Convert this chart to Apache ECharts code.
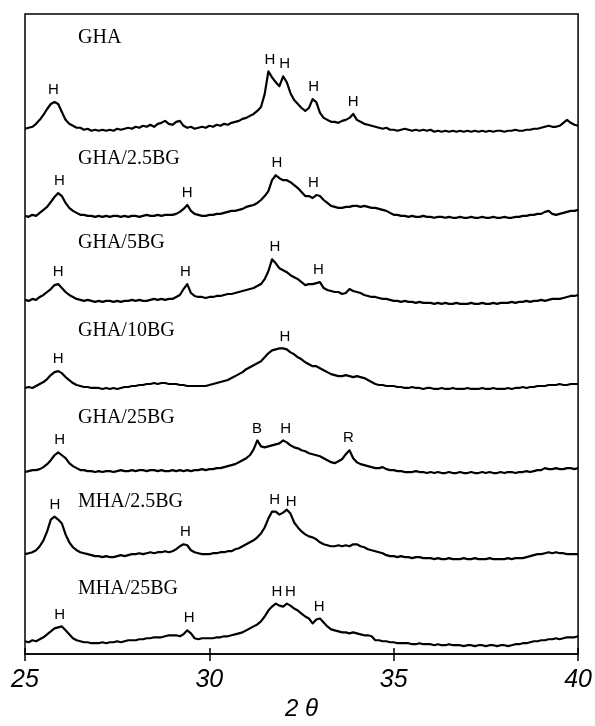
<!DOCTYPE html>
<html><head><meta charset="utf-8">
<script src="https://cdn.jsdelivr.net/npm/echarts/dist/echarts.min.js"></script>
<style>html,body{margin:0;padding:0;background:#fff}#c{width:595px;height:726px}</style>
</head><body><div id="c"></div>
<script>
// 2θ sampling grid: 25.0 … 40.0 in 0.1° steps
const twoTheta = [];
for (let i = 0; i <= 150; i++) twoTheta.push(+(25 + i * 0.1).toFixed(1));

const xTicks = [25, 30, 35, 40];
const sampleNames = ['GHA', 'GHA/2.5BG', 'GHA/5BG', 'GHA/10BG', 'GHA/25BG', 'MHA/2.5BG', 'MHA/25BG'];
// vertical stacking offsets of each pattern (arbitrary intensity units)
const offsets = [528, 441, 354, 268, 183, 96, 9];

// relative intensities (arbitrary units), one value per 0.1° from 25.0 to 40.0
const iGHA = [
 3,4,5,8,12,17,23,28,30,28,
 20,12,8,6,4,4,2,3,1,2,
 1,2,1,2,1,3,2,3,4,3,
 5,4,6,5,7,5,8,9,11,8,
 7,10,11,6,4,5,3,4,5,4,
 6,5,7,6,8,7,9,10,11,13,
 14,16,18,21,25,38,61,55,50,46,
 56,50,39,32,28,24,21,24,33,30,
 19,14,12,10,10,9,11,12,14,18,
 12,10,8,7,6,5,4,3,4,2,
 2,1,2,3,2,1,2,1,2,1,
 2,0,1,0,1,0,1,0,1,0,
 1,0,1,0,1,0,1,0,1,1,
 0,1,1,2,1,1,2,2,3,3,
 4,5,6,5,5,6,9,12,9,7,
 6];
const iGHA25 = [
 2,1,3,2,5,8,11,16,21,25,
 22,15,10,7,5,3,3,2,2,1,
 2,1,2,1,2,2,1,2,1,2,
 2,1,2,3,2,2,3,2,3,3,
 3,4,6,9,13,7,4,3,2,2,
 3,3,4,4,5,6,7,7,8,9,
 11,12,13,15,18,22,27,38,43,40,
 38,38,36,33,30,26,22,22,20,23,
 22,18,15,12,11,10,10,11,11,12,
 12,11,12,11,10,10,9,8,7,5,
 3,3,2,2,1,2,1,1,2,1,
 1,0,1,1,0,1,0,0,1,0,
 0,1,0,0,1,0,0,1,0,0,
 1,0,0,1,1,2,2,3,3,4,
 4,6,7,4,3,4,5,6,7,7,
 8];
const iGHA5 = [
 4,3,5,4,7,9,12,15,19,20,
 16,12,9,7,5,4,3,4,3,2,
 3,2,3,3,2,3,2,3,3,4,
 3,4,3,3,4,5,4,5,4,5,
 5,7,9,15,20,11,8,7,7,6,
 7,7,8,8,9,10,10,11,12,13,
 14,15,16,18,20,25,33,45,41,36,
 34,32,29,27,25,22,19,20,20,21,
 22,16,14,13,12,12,10,11,15,13,
 12,11,9,8,7,7,6,5,5,4,
 3,3,2,3,2,2,1,2,1,1,
 1,0,1,0,1,0,0,1,0,0,
 0,1,0,0,1,0,0,1,0,1,
 1,1,2,1,2,2,3,2,3,3,
 4,3,4,5,5,5,6,7,8,8,
 9];
const iGHA10 = [
 1,2,1,3,5,7,10,14,17,18,
 16,12,9,6,4,3,2,2,1,1,
 1,0,1,0,1,0,1,2,2,3,
 3,4,4,5,5,6,5,6,6,5,
 5,5,4,4,3,3,3,3,3,3,
 4,5,6,7,8,9,11,13,15,17,
 20,22,24,26,28,32,36,39,40,41,
 41,40,37,35,32,30,27,25,23,23,
 21,19,17,15,14,13,13,14,13,12,
 13,12,11,9,7,5,4,4,3,3,
 3,2,2,1,1,2,1,1,0,1,
 1,0,0,1,0,0,1,0,0,0,
 1,0,0,0,1,0,0,1,0,0,
 0,1,0,1,1,2,1,2,2,3,
 3,3,4,4,4,5,4,4,5,5,
 5];
const iGHA25BG = [
 1,2,3,3,4,6,9,13,18,21,
 18,15,10,7,5,3,3,2,2,1,
 2,1,2,2,1,2,3,2,2,3,
 2,3,3,2,3,3,2,3,2,2,
 3,2,3,2,3,2,3,3,4,3,
 4,4,5,5,6,7,8,9,11,13,
 15,18,24,33,27,26,27,28,29,30,
 33,31,28,26,25,23,22,20,19,18,
 17,15,13,11,10,12,14,19,23,15,
 11,9,8,7,6,5,5,6,4,3,
 3,2,2,1,1,1,2,1,1,0,
 1,0,1,0,0,1,0,0,1,0,
 0,1,0,0,1,0,1,0,0,1,
 0,1,1,0,1,1,2,1,2,3,
 3,5,4,4,5,4,4,5,5,4,
 5];
const iMHA25 = [
 5,6,7,9,13,19,28,40,43,40,
 36,25,17,12,9,7,6,5,4,3,
 3,2,3,2,2,3,4,3,4,5,
 5,6,5,6,7,6,7,7,8,7,
 8,10,13,15,14,9,7,6,5,5,
 5,6,6,7,7,8,8,10,11,13,
 15,17,19,22,26,32,41,48,48,45,
 47,50,46,37,32,28,25,23,22,20,
 17,15,14,13,13,14,13,14,13,15,
 15,13,12,10,9,8,7,6,4,3,
 3,2,3,2,2,1,2,2,1,1,
 1,0,1,0,0,1,0,0,0,1,
 0,0,1,0,0,0,1,0,0,0,
 0,1,0,1,1,1,2,3,4,5,
 5,6,7,6,7,6,6,5,5,5,
 5];
const iMHA25BG = [
 4,3,5,4,6,8,11,14,17,18,
 19,15,11,7,5,4,3,3,2,2,
 2,3,2,3,3,4,3,4,5,5,
 5,6,6,7,7,8,8,8,9,10,
 10,10,9,11,15,12,7,6,7,7,
 7,7,8,8,9,9,10,11,12,13,
 15,17,19,21,24,29,35,39,42,40,
 39,42,40,37,35,32,29,27,22,26,
 27,23,19,16,15,14,13,13,12,13,
 12,11,10,10,9,5,5,4,4,3,
 3,2,2,2,2,1,1,2,1,1,
 1,0,1,0,0,1,0,0,0,-1,
 0,0,-1,0,0,-1,0,0,-1,0,
 0,-1,0,1,1,2,2,3,4,4,
 5,5,6,6,7,6,7,8,8,8,
 9];
const intensities = [iGHA, iGHA25, iGHA5, iGHA10, iGHA25BG, iMHA25, iMHA25BG];

// phase annotations: [2θ, letter]
const peakMarks = [
  [[25.77,'H'],[31.64,'H'],[32.04,'H'],[32.83,'H'],[33.9,'H']],
  [[25.93,'H'],[29.4,'H'],[31.83,'H'],[32.82,'H']],
  [[25.9,'H'],[29.35,'H'],[31.78,'H'],[32.96,'H']],
  [[25.9,'H'],[32.05,'H']],
  [[25.94,'H'],[31.29,'B'],[32.07,'H'],[33.77,'R']],
  [[25.81,'H'],[29.35,'H'],[31.77,'H'],[32.22,'H']],
  [[25.94,'H'],[29.45,'H'],[31.83,'H'],[32.2,'H'],[32.98,'H']]
];
// vertical placement of sample names (pixels)
const nameTops = [38, 159, 243, 331, 418, 502, 589];

function localMax(vals, t) {
  let m = -Infinity;
  twoTheta.forEach((x, i) => { if (Math.abs(x - t) <= 0.11) m = Math.max(m, vals[i]); });
  return m;
}

const series = intensities.map((vals, k) => ({
  type: 'line',
  name: sampleNames[k],
  data: twoTheta.map((x, i) => [x, offsets[k] + vals[i]]),
  showSymbol: false,
  lineStyle: { color: '#000', width: 2.2, join: 'round' },
  itemStyle: { color: '#000' },
  silent: true,
  markPoint: {
    symbol: 'circle', symbolSize: 1,
    itemStyle: { color: 'rgba(0,0,0,0)' },
    label: {
      show: true, position: 'top', distance: 4,
      color: '#000', fontFamily: 'Liberation Sans', fontSize: 15,
      formatter: p => p.name
    },
    data: peakMarks[k].map(([t, l]) => ({ name: l, coord: [t, offsets[k] + localMax(vals, t)] }))
  }
}));

const chart = echarts.init(document.getElementById('c'), null, { renderer: 'canvas' });
const labelFont = { fontFamily: 'Liberation Sans', fontStyle: 'italic', fontSize: 25, color: '#000' };
chart.setOption({
  animation: false,
  backgroundColor: '#fff',
  grid: { left: 25, right: 13, top: 14, bottom: 65, show: true, borderColor: '#000', borderWidth: 1.5 },
  xAxis: [{
    type: 'value', min: 25, max: 40, interval: 5, position: 'bottom',
    axisLine: { show: true, lineStyle: { color: '#000', width: 1.5 } },
    axisTick: { show: true, inside: false, length: 7, lineStyle: { color: '#000', width: 1.5 } },
    axisLabel: Object.assign({ margin: 13, formatter: v => xTicks.includes(v) ? String(v) : '' }, labelFont),
    splitLine: { show: false },
    name: '2 θ', nameLocation: 'middle', nameGap: 32,
    nameTextStyle: { fontFamily: 'Liberation Sans', fontStyle: 'italic', fontSize: 24, color: '#000' }
  }, {
    type: 'value', min: 25, max: 40, interval: 5, position: 'bottom', offset: 0,
    axisLine: { show: false },
    axisTick: { show: true, inside: true, length: 6, lineStyle: { color: '#000', width: 1.5 } },
    axisLabel: { show: false }, splitLine: { show: false }
  }],
  yAxis: { type: 'value', min: 0, max: 647, show: false },
  graphic: sampleNames.map((n, k) => ({
    type: 'text', left: 78, top: nameTops[k] - 10,
    style: { text: n, fontFamily: 'Liberation Serif', fontSize: 20, fill: '#000' }
  })),
  series
});
</script></body></html>
